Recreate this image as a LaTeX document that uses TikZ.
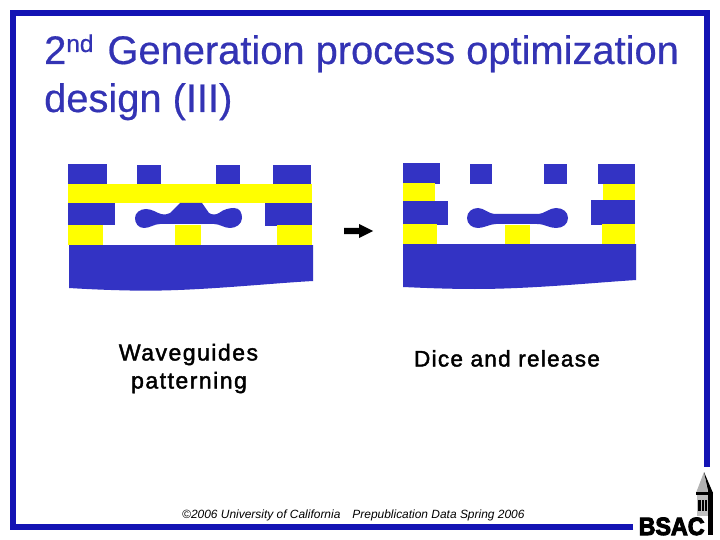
\documentclass[tikz,border=0pt]{standalone}
\usepackage{fontspec}
\setmainfont{Liberation Sans}
\newfontfamily\titlefont[FakeBold=0.5]{Liberation Sans}
\newfontfamily\lblfont[LetterSpace=6.5,FakeBold=1.8]{Liberation Sans}
\newfontfamily\lblfontb[LetterSpace=5.8,FakeBold=1.8]{Liberation Sans}
\newfontfamily\logofont[FakeBold=4,FakeStretch=0.93]{Liberation Sans Bold}
\definecolor{framec}{HTML}{1414B4}
\definecolor{bluec}{HTML}{3333C4}
\definecolor{titlec}{HTML}{3333B4}
\definecolor{yell}{HTML}{FFFF00}
\tikzset{
  bl/.style={fill=bluec,draw=none},
  yl/.style={fill=yell,draw=none},
  frameline/.style={draw=framec,line width=6pt,line cap=butt,line join=miter},
  titletext/.style={anchor=base west,inner sep=0pt,text=titlec,font=\titlefont\fontsize{39.85}{44}\selectfont},
  labeltext/.style={anchor=base,inner sep=0pt,text=black,font=\lblfont\fontsize{23}{26}\selectfont},
  labeltextb/.style={anchor=base,inner sep=0pt,text=black,font=\lblfontb\fontsize{22.5}{26}\selectfont},
}
\begin{document}
\begin{tikzpicture}[x=1pt,y=-1pt]
\useasboundingbox (0,0) rectangle (720,540);
\fill[white] (0,0) rectangle (720,540);
% frame
\draw[frameline] (633,527) -- (13,527) -- (13,13) -- (707,13) -- (707,467);
% title
\node[titletext] (t1) at (44,64) {2\raisebox{12pt}{\fontsize{24.3}{24}\selectfont nd}\hspace{3pt} Generation process optimization};
\node[titletext] (t2) at (44,112) {design (III)};
% left device
\fill[bl] (68,164) rectangle (107,184);
\fill[bl] (137,165) rectangle (161,184);
\fill[bl] (216,165) rectangle (240,184);
\fill[bl] (273,165) rectangle (311,184);
\fill[yl] (68,184) rectangle (312,203);
\fill[bl] (68,203) rectangle (115,225);
\fill[bl] (265,203) rectangle (312,226);
\fill[bl] (69,245) -- (313,245) -- (313,281) .. controls (260,284) and (190,292) .. (130,290.5) .. controls (105,290) and (85,289) .. (69,288) -- cycle;
\fill[yl] (68,225) rectangle (103,245);
\fill[yl] (175,225) rectangle (201,245);
\fill[yl] (277,225) rectangle (312,245);
\fill[bl] (180,203) -- (202,203) -- (209,213)
  .. controls (212,215) and (216,215) .. (219,213)
  .. controls (224,209) and (230,208) .. (234,208)
  .. controls (240,208) and (242,213) .. (242,218)
  .. controls (242,224) and (236,228) .. (230,228)
  .. controls (224,228) and (220,224) .. (214,224)
  -- (160,224)
  .. controls (154,224) and (150,228) .. (144,228)
  .. controls (138,228) and (135,223) .. (135,218)
  .. controls (135,213) and (140,209) .. (146,209)
  .. controls (152,209) and (157,213) .. (161,214)
  .. controls (165,215) and (168,214) .. (170,213)
  -- cycle;
% arrow
\fill[black] (344,228) -- (359,228) -- (359,224) -- (373,231) -- (359,238) -- (359,234) -- (344,234) -- cycle;
% right device
\fill[bl] (403,163) rectangle (440,184);
\fill[bl] (470,164) rectangle (492,184);
\fill[bl] (544,164) rectangle (567,184);
\fill[bl] (598,164) rectangle (635,184);
\fill[yl] (403,183) rectangle (435,201);
\fill[yl] (603,184) rectangle (635,201);
\fill[bl] (403,201) rectangle (448,225);
\fill[bl] (591,200) rectangle (635,225);
\fill[bl] (403,244) -- (636,244) -- (636,280) .. controls (590,283) and (530,289) .. (475,289) .. controls (450,289) and (425,288) .. (403,287) -- cycle;
\fill[yl] (403,224) rectangle (437,244);
\fill[yl] (505,225) rectangle (530,244);
\fill[yl] (602,224) rectangle (635,244);
\fill[bl] (478,208) .. controls (484,208) and (488,214) .. (496,214)
  -- (537,214)
  .. controls (545,214) and (549,208) .. (556,208)
  .. controls (563,208) and (568,212) .. (568,218)
  .. controls (568,224) and (563,228) .. (556,228)
  .. controls (549,228) and (545,224) .. (537,224)
  -- (496,224)
  .. controls (490,224) and (484,228) .. (478,228)
  .. controls (472,228) and (467,224) .. (467,218)
  .. controls (467,212) and (472,208) .. (478,208) -- cycle;
% labels
\node[labeltext] (w1) at (188.5,360.5) {Waveguides};
\node[labeltext] (w2) at (189,388.5) {patterning};
\node[labeltextb] (d1) at (507,366.5) {Dice and release};
% footer
\node[anchor=base west,inner sep=0pt,font=\fontsize{11.95}{14}\selectfont\itshape] (fo) at (182,518.5) {©2006 University of California\hspace{12pt}Prepublication Data Spring 2006};
% logo tower
\fill[black!30] (704,472) -- (708,493) -- (696,493) -- cycle;
\fill[black] (704,472) -- (708.5,493) -- (713,493) -- cycle;
\fill[black!25] (697,493) rectangle (713,516);
\fill[black] (696,491.5) rectangle (713,494.5);
\fill[black] (698,500) rectangle (707,511);
\fill[black!25] (700.5,500) rectangle (701.5,511);
\fill[black!25] (703.8,500) rectangle (704.8,511);
\fill[black] (708,495) rectangle (713,535);
% logo
\node[anchor=base west,inner sep=0pt,text=black,font=\logofont\fontsize{25}{25}\selectfont] (lg) at (638.5,535) {BSAC};
\end{tikzpicture}
\end{document}
